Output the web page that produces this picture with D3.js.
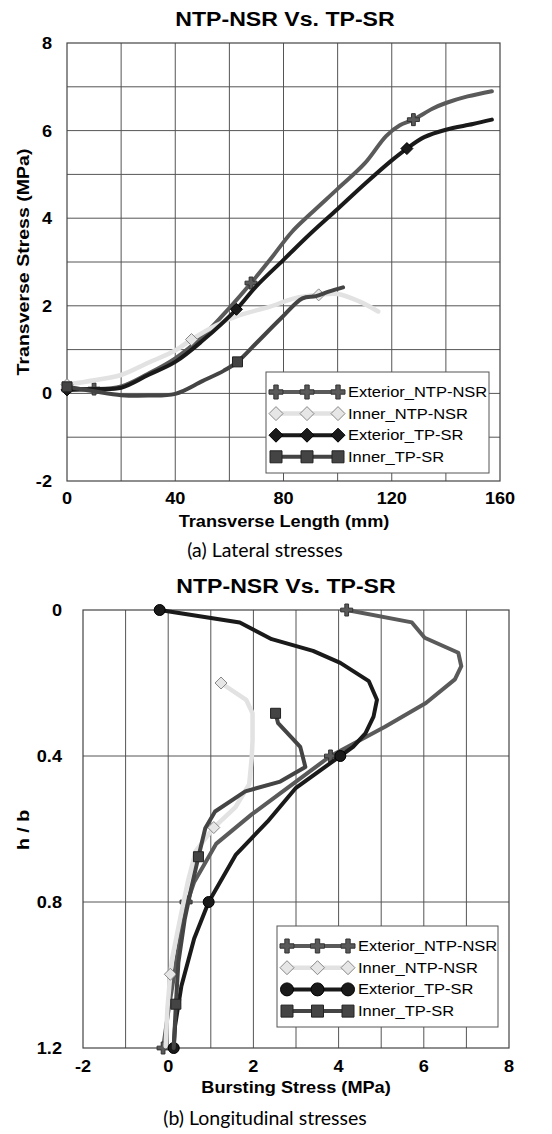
<!DOCTYPE html>
<html>
<head>
<meta charset="utf-8">
<script src="https://cdn.jsdelivr.net/npm/d3@7"></script>
<style>
body { margin: 0; background: #fff; }
svg text { font-family: "Liberation Sans", Arial, sans-serif; fill: #000; }
.caption { font-family: Lato, "Open Sans", sans-serif; }
</style>
</head>
<body>
<svg id="chart" width="552" height="1134"></svg>
<script>
// ---- data: (a) lateral stresses, [transverse length mm, stress MPa]
var seriesNames = ['Exterior_NTP-NSR', 'Inner_NTP-NSR', 'Exterior_TP-SR', 'Inner_TP-SR'];

var latExtNtp = [[0,0.12],[10,0.1],[20,0.16],[30,0.45],[40,0.8],[50,1.3],[60,1.95],[68,2.52],[75,3.05],[83,3.68],
	[90,4.1],[100,4.67],[110,5.25],[118,5.88],[123,6.12],[128,6.25],[135,6.5],[140,6.63],[148,6.78],[157,6.9]];
var latExtNtpMarks = [[10,0.1],[68,2.52],[128,6.25]];
var latInNtp = [[0,0.2],[10,0.3],[20,0.42],[30,0.7],[40,0.98],[46,1.23],[55,1.55],[64,1.79],[75,1.98],[84,2.17],
	[93,2.25],[100,2.27],[108,2.1],[115,1.87]];
var latInNtpMarks = [[0,0.2],[46,1.23],[93,2.25]];
var latExtTp = [[0,0.08],[10,0.1],[20,0.13],[30,0.42],[40,0.72],[50,1.2],[62.6,1.92],[70,2.45],[80,3.05],[90,3.65],
	[100,4.21],[110,4.78],[120,5.32],[125.6,5.59],[132,5.85],[140,6.02],[150,6.15],[157,6.25]];
var latExtTpMarks = [[0,0.08],[62.6,1.92],[125.6,5.59]];
var latInTp = [[0,0.15],[10,0.05],[20,-0.04],[30,-0.05],[40,-0.01],[50,0.28],[58,0.52],[63,0.72],[70,1.15],[79,1.71],
	[87,2.17],[92,2.22],[97,2.33],[102,2.42]];
var latInTpMarks = [[0,0.15],[63,0.72]];

// ---- data: (b) longitudinal stresses, [bursting stress MPa, h/b]
var lonExtNtp = [[4.19,0],[5.72,0.034],[6.02,0.076],[6.81,0.117],[6.88,0.154],[6.73,0.19],[6.05,0.255],[5.09,0.32],
	[3.81,0.4],[3.0,0.47],[1.96,0.56],[1.13,0.64],[0.61,0.745],[0.39,0.82],[0.2,0.956],[0.01,1.094],[-0.12,1.2]];
var lonExtNtpMarks = [[4.19,0],[3.81,0.4],[0.42,0.8],[-0.12,1.2]];
var lonInNtp = [[1.24,0.2],[1.83,0.246],[1.98,0.283],[1.98,0.357],[1.96,0.405],[1.9,0.478],[1.58,0.54],[1.07,0.596],
	[0.65,0.66],[0.46,0.745],[0.28,0.846],[0.09,0.956],[0.05,0.998],[-0.02,1.094],[-0.06,1.195]];
var lonInNtpMarks = [[1.24,0.2],[1.07,0.596],[0.05,0.998]];
var lonExtTp = [[-0.2,0],[1.68,0.034],[2.43,0.08],[3.4,0.112],[4.04,0.145],[4.71,0.195],[4.9,0.246],[4.82,0.292],
	[4.63,0.338],[4.34,0.375],[4.04,0.4],[3.0,0.487],[2.33,0.58],[1.59,0.67],[0.95,0.8],[0.61,0.9],[0.31,1.03],
	[0.16,1.14],[0.13,1.2]];
var lonExtTpMarks = [[-0.2,0],[4.04,0.4],[0.95,0.8],[0.13,1.2]];
var lonInTp = [[2.52,0.283],[2.58,0.31],[3.1,0.375],[3.22,0.43],[2.63,0.47],[1.81,0.497],[1.1,0.552],[0.87,0.598],
	[0.71,0.676],[0.54,0.763],[0.39,0.846],[0.24,0.965],[0.18,1.08],[0.13,1.2]];
var lonInTpMarks = [[2.52,0.283],[0.71,0.676],[0.18,1.08]];

var latXTicks = [0, 40, 80, 120, 160];
var latYTicks = [-2, 0, 2, 4, 6, 8];
var lonXTicks = [-2, 0, 2, 4, 6, 8];
var lonYTicks = [0, 0.4, 0.8, 1.2];

// the source's text is a little wider than Arial, so it gets a small horizontal stretch
var SX = 1.1;

// marker shapes as path strings, r = half width
function shape(kind, r) {
	var t;
	if (kind === 'cross') {
		t = r / 3.2;
		return 'M' + -t + ',' + -r + 'H' + t + 'V' + -t + 'H' + r + 'V' + t + 'H' + t + 'V' + r +
			'H' + -t + 'V' + t + 'H' + -r + 'V' + -t + 'H' + -t + 'Z';
	}
	if (kind === 'diamond') return 'M0,' + -r + 'L' + r + ',0L0,' + r + 'L' + -r + ',0Z';
	if (kind === 'square') return 'M' + -r + ',' + -r + 'H' + r + 'V' + r + 'H' + -r + 'Z';
	return d3.arc()({innerRadius: 0, outerRadius: r, startAngle: 0, endAngle: 2 * Math.PI});
}

function label(sel, x, y, rot, sx) {
	return sel.attr('transform', 'translate(' + x + ',' + y + ')' + (rot ? ' rotate(' + rot + ')' : '') + ' scale(' + sx + ',1)');
}

var svg = d3.select('#chart');

function panel(o) {
	var x = d3.scaleLinear().domain(o.xDomain).range([o.left, o.right]);
	var y = d3.scaleLinear().domain(o.yDomain).range(o.yRange);
	var g = svg.append('g');
	var top = Math.min(o.yRange[0], o.yRange[1]), bottom = Math.max(o.yRange[0], o.yRange[1]);

	label(g.append('text'), o.titleX, o.titleY, 0, SX).attr('text-anchor', 'middle')
		.style('font-size', '21px').style('font-weight', 'bold').text('NTP-NSR Vs. TP-SR');

	// gridlines
	g.selectAll('.gx').data(o.gridX).enter().append('line')
		.attr('x1', function (d) { return x(d); }).attr('x2', function (d) { return x(d); })
		.attr('y1', top).attr('y2', bottom).attr('stroke', '#555').attr('stroke-width', 1);
	g.selectAll('.gy').data(o.gridY).enter().append('line')
		.attr('y1', function (d) { return y(d); }).attr('y2', function (d) { return y(d); })
		.attr('x1', o.left).attr('x2', o.right).attr('stroke', '#555').attr('stroke-width', 1);
	g.append('rect').attr('x', o.left).attr('y', top).attr('width', o.right - o.left).attr('height', bottom - top)
		.attr('fill', 'none').attr('stroke', '#444').attr('stroke-width', 1.2);

	// tick labels
	g.selectAll('.tx').data(o.xTicks).enter().append('text')
		.attr('transform', function (d) { return 'translate(' + x(d) + ',' + o.xTickY + ') scale(' + SX + ',1)'; })
		.attr('text-anchor', 'middle')
		.style('font-size', '16.5px').style('font-weight', 'bold').text(function (d) { return String(d); });
	g.selectAll('.ty').data(o.yTicks).enter().append('text')
		.attr('transform', function (d) { return 'translate(' + o.yTickX + ',' + (y(d) + 6) + ') scale(' + SX + ',1)'; })
		.attr('text-anchor', 'end')
		.style('font-size', '16.5px').style('font-weight', 'bold').text(function (d) { return String(d); });

	label(g.append('text'), o.xTitleX, o.xTitleY, 0, SX).attr('text-anchor', 'middle')
		.style('font-size', '16.5px').style('font-weight', 'bold').text(o.xTitle);
	label(g.append('text'), o.yTitleX, o.yTitleY, -90, 1.15).attr('text-anchor', 'middle')
		.style('font-size', '17px').style('font-weight', 'bold').text(o.yTitle);
	g.append('text').attr('class', 'caption').attr('x', o.capX).attr('y', o.capY).attr('text-anchor', 'middle')
		.style('font-size', '19.5px').text(o.caption);

	var line = d3.line().x(function (d) { return x(d[0]); }).y(function (d) { return y(d[1]); })
		.curve(o.curve);
	var plot = g.append('g');

	o.series.forEach(function (s) {
		plot.append('path').datum(s.data).attr('d', line).attr('fill', 'none')
			.attr('stroke', s.color).attr('stroke-width', s.width)
			.attr('stroke-linejoin', 'round').attr('stroke-linecap', 'round');
		plot.selectAll(null).data(s.marks).enter().append('path')
			.attr('transform', function (d) { return 'translate(' + x(d[0]) + ',' + y(d[1]) + ')'; })
			.attr('d', shape(s.marker, s.size)).attr('fill', s.fill).attr('stroke', s.stroke).attr('stroke-width', 1);
	});

	// legend
	var L = o.legend;
	var lg = g.append('g');
	lg.append('rect').attr('x', L.x).attr('y', L.y).attr('width', L.w).attr('height', L.h)
		.attr('fill', '#fff').attr('stroke', '#555').attr('stroke-width', 1);
	o.series.forEach(function (s, i) {
		var ry = L.y + L.first + i * L.step;
		lg.append('line').attr('x1', L.sx0).attr('x2', L.sx1).attr('y1', ry).attr('y2', ry)
			.attr('stroke', s.color).attr('stroke-width', s.width);
		[L.sx0, (L.sx0 + L.sx1) / 2, L.sx1].forEach(function (mx) {
			lg.append('path').attr('transform', 'translate(' + mx + ',' + ry + ')')
				.attr('d', shape(s.marker, s.size + 1)).attr('fill', s.fill).attr('stroke', s.stroke).attr('stroke-width', 1);
		});
		label(lg.append('text'), L.tx, ry + 5, 0, SX).style('font-size', '15px').text(s.name);
	});
}

panel({
	xDomain: [0, 160], yDomain: [-2, 8], left: 67, right: 500, yRange: [481, 43],
	curve: d3.curveCatmullRom.alpha(0.5),
	gridX: d3.range(20, 160, 20), gridY: d3.range(-1, 8, 1),
	xTicks: latXTicks, yTicks: latYTicks, xTickY: 504, yTickX: 52,
	titleX: 285, titleY: 26,
	xTitle: 'Transverse Length (mm)', xTitleX: 284, xTitleY: 527,
	yTitle: 'Transverse Stress (MPa)', yTitleX: 29, yTitleY: 262,
	caption: '(a) Lateral stresses', capX: 265, capY: 557,
	series: [
		{name: seriesNames[0], data: latExtNtp, marks: latExtNtpMarks, color: '#5a5a5a', width: 4, marker: 'cross', size: 6, fill: '#5a5a5a', stroke: '#333'},
		{name: seriesNames[1], data: latInNtp, marks: latInNtpMarks, color: '#e2e2e2', width: 4.5, marker: 'diamond', size: 6, fill: '#e6e6e6', stroke: '#888'},
		{name: seriesNames[2], data: latExtTp, marks: latExtTpMarks, color: '#1a1a1a', width: 4, marker: 'diamond', size: 6, fill: '#1a1a1a', stroke: '#000'},
		{name: seriesNames[3], data: latInTp, marks: latInTpMarks, color: '#444', width: 4, marker: 'square', size: 5, fill: '#444', stroke: '#222'}
	],
	legend: {x: 266, y: 372, w: 223, h: 101, first: 20, step: 21.6, sx0: 276, sx1: 338, tx: 348}
});

panel({
	xDomain: [-2, 8], yDomain: [0, 1.2], left: 83, right: 509, yRange: [610, 1048],
	curve: d3.curveLinear,
	gridX: d3.range(-1, 8, 1), gridY: [0.4, 0.8],
	xTicks: lonXTicks, yTicks: lonYTicks, xTickY: 1072, yTickX: 62,
	titleX: 286, titleY: 593,
	xTitle: 'Bursting Stress (MPa)', xTitleX: 296, xTitleY: 1093,
	yTitle: 'h / b', yTitleX: 29, yTitleY: 830,
	caption: '(b) Longitudinal stresses', capX: 265, capY: 1125,
	series: [
		{name: seriesNames[0], data: lonExtNtp, marks: lonExtNtpMarks, color: '#5a5a5a', width: 4, marker: 'cross', size: 6, fill: '#5a5a5a', stroke: '#333'},
		{name: seriesNames[1], data: lonInNtp, marks: lonInNtpMarks, color: '#e2e2e2', width: 4.5, marker: 'diamond', size: 6, fill: '#e6e6e6', stroke: '#888'},
		{name: seriesNames[2], data: lonExtTp, marks: lonExtTpMarks, color: '#1a1a1a', width: 4, marker: 'circle', size: 5.5, fill: '#1a1a1a', stroke: '#000'},
		{name: seriesNames[3], data: lonInTp, marks: lonInTpMarks, color: '#444', width: 4, marker: 'square', size: 5, fill: '#444', stroke: '#222'}
	],
	legend: {x: 277, y: 926, w: 221, h: 101, first: 20, step: 21.7, sx0: 287, sx1: 348, tx: 358}
});
</script>
</body>
</html>
